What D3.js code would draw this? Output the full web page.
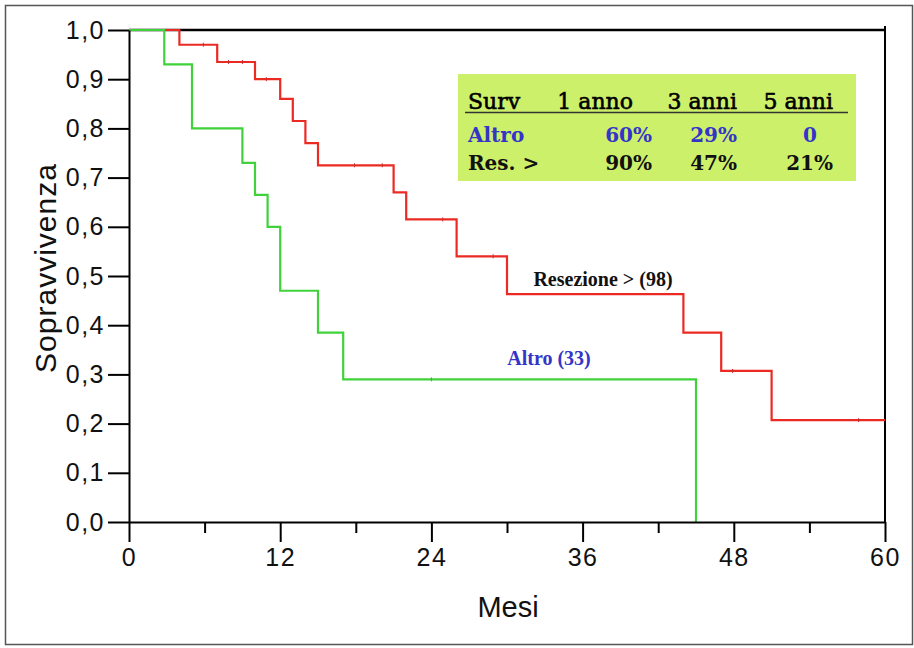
<!DOCTYPE html>
<html lang="it">
<head>
<meta charset="utf-8">
<title>Sopravvivenza</title>
<script src="https://cdn.jsdelivr.net/npm/d3@7"></script>
<style>
  body { margin:0; background:#fff; }
  .tick text { font-family:"Liberation Sans", Arial, sans-serif; font-size:25px; fill:#111; letter-spacing:1.5px; }
  .ax path, .ax line { stroke:#000; stroke-width:2px; }
</style>
</head>
<body>
<div id="chart"></div>
<script>
// curva Resezione > (98)
var resTimes = [0, 4, 7, 10, 12, 13, 14, 15, 21, 22, 26, 30, 44, 47, 51, 60]
var resSurv  = [1.0, 0.97, 0.935, 0.90, 0.86, 0.815, 0.77, 0.725, 0.67, 0.615, 0.54, 0.463, 0.385, 0.307, 0.207, 0.207]
var resCensored = [5.9, 7.9, 9.0, 10.9, 17.9, 20.1, 24.9, 28.9, 47.9, 57.9]

// curva Altro (33)
var altTimes = [0, 2.8, 5, 9, 10, 11, 12, 15, 17, 45]
var altSurv  = [1.0, 0.93, 0.80, 0.73, 0.665, 0.60, 0.47, 0.385, 0.29, 0]
var altCensored = [24.0]

var xTicks = [0, 12, 24, 36, 48, 60]
var xMinorTicks = [6, 18, 30, 42, 54]
var yTicks = [0, 0.1, 0.2, 0.3, 0.4, 0.5, 0.6, 0.7, 0.8, 0.9, 1.0]

// tabella
var tableHeader = ["Surv", "1 anno", "3 anni", "5 anni"]
var rowAltro = ["Altro", "60%", "29%", "0"]
var rowRes = ["Res. >", "90%", "47%", "21%"]

var W = 914, H = 648
var mLeft = 129, mRight = 885, mTop = 30, mBottom = 522

var svg = d3.select("#chart").append("svg")
  .attr("width", W).attr("height", H)

// cornice esterna
svg.append("rect")
  .attr("x", 5.5).attr("y", 5.5)
  .attr("width", 907).attr("height", 639)
  .attr("fill", "none").attr("stroke", "#555").attr("stroke-width", 1.5)

var x = d3.scaleLinear().domain([0, 60]).range([mLeft, mRight])
var y = d3.scaleLinear().domain([0, 1]).range([mBottom, mTop])

// table background
svg.append("rect")
  .attr("x", 458).attr("y", 74).attr("width", 398).attr("height", 107)
  .attr("fill", "#cdf06a")

// top + right lines of the box
svg.append("line").attr("x1", mLeft).attr("x2", mRight).attr("y1", y(1)).attr("y2", y(1))
  .attr("stroke", "#000").attr("stroke-width", 2.5)
svg.append("line").attr("x1", mRight).attr("x2", mRight).attr("y1", y(1) - 4).attr("y2", mBottom)
  .attr("stroke", "#000").attr("stroke-width", 2)

function stepPoints(t, s) {
  return t.map(function(d, i) { return [d, s[i]] })
}
function survAt(t, s, time) {
  var i = d3.bisectRight(t, time) - 1
  return s[Math.max(0, i)]
}

var line = d3.line()
  .x(function(d) { return x(d[0]) })
  .y(function(d) { return y(d[1]) })
  .curve(d3.curveStepAfter)

svg.append("path")
  .datum(stepPoints(resTimes, resSurv))
  .attr("d", line)
  .attr("fill", "none").attr("stroke", "#ec2a24").attr("stroke-width", 2.2)

svg.append("path")
  .datum(stepPoints(altTimes, altSurv))
  .attr("d", line)
  .attr("fill", "none").attr("stroke", "#3fd23a").attr("stroke-width", 2.2)

svg.selectAll(".cres").data(resCensored).enter().append("line")
  .attr("x1", function(d) { return x(d) }).attr("x2", function(d) { return x(d) })
  .attr("y1", function(d) { return y(survAt(resTimes, resSurv, d)) - 2 })
  .attr("y2", function(d) { return y(survAt(resTimes, resSurv, d)) + 2 })
  .attr("stroke", "#c8302a").attr("stroke-width", 1)

svg.selectAll(".calt").data(altCensored).enter().append("line")
  .attr("x1", function(d) { return x(d) }).attr("x2", function(d) { return x(d) })
  .attr("y1", function(d) { return y(survAt(altTimes, altSurv, d)) - 2 })
  .attr("y2", function(d) { return y(survAt(altTimes, altSurv, d)) + 2 })
  .attr("stroke", "#33b833").attr("stroke-width", 1)

// axes
var xAxis = d3.axisBottom(x).tickValues(xTicks).tickSize(20).tickSizeOuter(0).tickPadding(6)
svg.append("g").attr("class", "ax").attr("transform", "translate(0," + mBottom + ")").call(xAxis)

var xMinor = d3.axisBottom(x).tickValues(xMinorTicks).tickSize(11).tickSizeOuter(0).tickFormat("")
svg.append("g").attr("class", "ax").attr("transform", "translate(0," + mBottom + ")").call(xMinor)
  .select(".domain").remove()

var yAxis = d3.axisLeft(y).tickValues(yTicks).tickSize(21).tickSizeOuter(0).tickPadding(3)
  .tickFormat(function(d) { return d3.format(".1f")(d).replace(".", ",") })
svg.append("g").attr("class", "ax").attr("transform", "translate(" + mLeft + ",0)").call(yAxis)

// axis titles
svg.append("text")
  .attr("transform", "translate(56,268) rotate(-90)")
  .attr("text-anchor", "middle")
  .style("font-family", "Liberation Sans, Arial, sans-serif").style("font-size", "30px")
  .style("letter-spacing", "1px").attr("fill", "#111")
  .text("Sopravvivenza")

svg.append("text")
  .attr("x", 508).attr("y", 617)
  .attr("text-anchor", "middle")
  .style("font-family", "Liberation Sans, Arial, sans-serif").style("font-size", "29px").attr("fill", "#111")
  .text("Mesi")

// curve labels
svg.append("text")
  .attr("x", 603).attr("y", 286).attr("text-anchor", "middle")
  .style("font-family", "Liberation Serif, Times New Roman, serif").style("font-size", "20px").style("font-weight", "bold")
  .attr("fill", "#111").text("Resezione > (98)")

svg.append("text")
  .attr("x", 549).attr("y", 365).attr("text-anchor", "middle")
  .style("font-family", "Liberation Serif, Times New Roman, serif").style("font-size", "20px").style("font-weight", "bold")
  .attr("fill", "#3434c8").text("Altro (33)")

// table
var colX = [468, 633, 737, 833]
var tFont = "DejaVu Serif, serif"

svg.selectAll(".th").data(tableHeader).enter().append("text")
  .attr("x", function(d, i) { return colX[i] })
  .attr("y", 109)
  .attr("text-anchor", function(d, i) { return i == 0 ? "start" : "end" })
  .style("font-family", tFont).style("font-size", "22px")
  .attr("fill", "#000").attr("stroke", "#000").attr("stroke-width", 0.6)
  .text(function(d) { return d })

svg.append("line").attr("x1", 465).attr("x2", 848).attr("y1", 112.5).attr("y2", 112.5)
  .attr("stroke", "#333").attr("stroke-width", 1.5)

var valX = [468, 652, 737, 833]

function drawRow(row, yy, col) {
  svg.append("g").selectAll("text").data(row).enter().append("text")
    .attr("x", function(d, i) { return (row[i] == "0") ? 810 : valX[i] })
    .attr("y", yy)
    .attr("text-anchor", function(d, i) { return i == 0 ? "start" : (d == "0" ? "middle" : "end") })
    .style("font-family", tFont).style("font-size", "20px").style("font-weight", "bold")
    .attr("fill", function(d, i) { return col }).text(function(d) { return d })
}
drawRow(rowAltro, 142, "#3434c8")
drawRow(rowRes, 170, "#111")
</script>
</body>
</html>
